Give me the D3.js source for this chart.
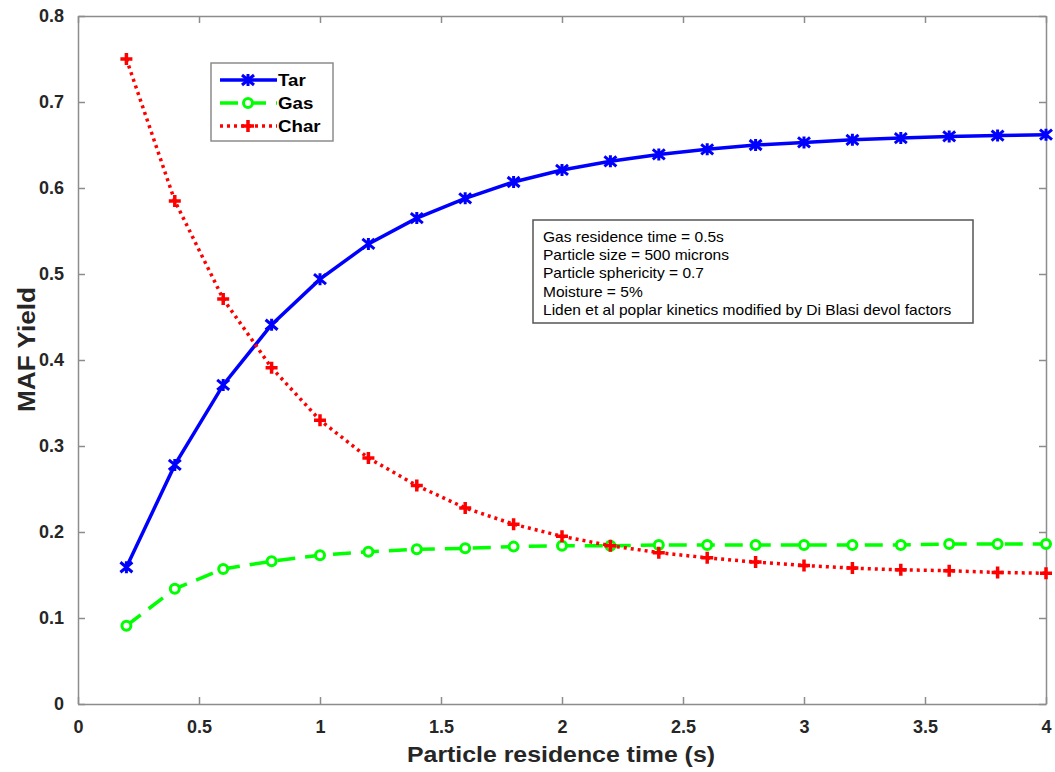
<!DOCTYPE html>
<html>
<head>
<meta charset="utf-8">
<script src="https://cdn.jsdelivr.net/npm/d3@7"></script>
<style>
  body { margin: 0; background: #fff; }
  svg { font-family: "Liberation Sans", Arial, sans-serif; }
  .tick text { font-weight: bold; font-size: 18px; fill: #262626; }
</style>
</head>
<body>
<svg id="chart" width="1055" height="772"></svg>
<script>
// residence time (s)
var times = [0.2, 0.4, 0.6, 0.8, 1.0, 1.2, 1.4, 1.6, 1.8, 2.0,
             2.2, 2.4, 2.6, 2.8, 3.0, 3.2, 3.4, 3.6, 3.8, 4.0];
var tarYield = [0.159, 0.278, 0.371, 0.441, 0.494, 0.535, 0.565, 0.588, 0.607, 0.621,
                0.631, 0.639, 0.645, 0.650, 0.653, 0.656, 0.658, 0.660, 0.661, 0.662];
var gasYield = [0.091, 0.134, 0.157, 0.166, 0.173, 0.177, 0.180, 0.181, 0.183, 0.184,
                0.184, 0.185, 0.185, 0.185, 0.185, 0.185, 0.185, 0.186, 0.186, 0.186];
var charYield = [0.750, 0.585, 0.471, 0.391, 0.330, 0.286, 0.254, 0.228, 0.209, 0.195,
                 0.184, 0.176, 0.170, 0.165, 0.161, 0.158, 0.156, 0.155, 0.153, 0.152];
var xTicks = [0, 0.5, 1, 1.5, 2, 2.5, 3, 3.5, 4];
var yTicks = [0, 0.1, 0.2, 0.3, 0.4, 0.5, 0.6, 0.7, 0.8];
var notes = ["Gas residence time = 0.5s",
             "Particle size = 500 microns",
             "Particle sphericity = 0.7",
             "Moisture = 5%",
             "Liden et al poplar kinetics modified by Di Blasi devol factors"];

var margin = {left: 78, right: 9, top: 16, bottom: 68};
var width = 1055, height = 772;
var svg = d3.select("#chart");

var x = d3.scaleLinear().domain([0, 4]).range([margin.left, width - margin.right]);
var y = d3.scaleLinear().domain([0, 0.8]).range([height - margin.bottom, margin.top]);

var axisColor = "#8c8c8c", tickLen = 7;

/* axes (box with inward ticks) */
function styleAxis(g) {
  g.select(".domain").attr("stroke", axisColor).attr("stroke-width", 1.5);
  g.selectAll(".tick line").attr("stroke", axisColor).attr("stroke-width", 1.5);
}

svg.append("g")
  .attr("transform", "translate(0," + y(0) + ")")
  .call(d3.axisBottom(x).tickValues(xTicks).tickSize(-tickLen).tickPadding(16)
        .tickSizeOuter(0).tickFormat(d3.format("")))
  .call(styleAxis);

svg.append("g")
  .attr("transform", "translate(0," + y(0.8) + ")")
  .call(d3.axisTop(x).tickValues(xTicks).tickSize(-tickLen).tickSizeOuter(0).tickFormat(""))
  .call(styleAxis);

svg.append("g")
  .attr("transform", "translate(" + x(0) + ",0)")
  .call(d3.axisLeft(y).tickValues(yTicks).tickSize(-tickLen).tickPadding(14)
        .tickSizeOuter(0).tickFormat(d3.format("")))
  .call(styleAxis);

svg.append("g")
  .attr("transform", "translate(" + x(4) + ",0)")
  .call(d3.axisRight(y).tickValues(yTicks).tickSize(-tickLen).tickSizeOuter(0).tickFormat(""))
  .call(styleAxis);

/* axis labels */
svg.append("text")
  .attr("x", 407).attr("y", 762)
  .attr("textLength", 308).attr("lengthAdjust", "spacingAndGlyphs")
  .style("font-weight", "bold").style("font-size", "22px").style("fill", "#262626")
  .text("Particle residence time (s)");

svg.append("text")
  .attr("transform", "translate(35,412) rotate(-90)")
  .attr("textLength", 125).attr("lengthAdjust", "spacingAndGlyphs")
  .style("font-weight", "bold").style("font-size", "23px").style("fill", "#262626")
  .text("MAF Yield");

/* series */
var series = [
  {name: "Tar",  values: tarYield,  color: "#0000ff", dash: null,    marker: "star"},
  {name: "Gas",  values: gasYield,  color: "#00ff00", dash: "18,10", marker: "circle"},
  {name: "Char", values: charYield, color: "#ff0000", dash: "3,4",   marker: "plus"}
];

var line = d3.line()
  .x(function(d) { return x(d[0]); })
  .y(function(d) { return y(d[1]); });

function drawMarker(g, kind, color) {
  if (kind === "star") {
    g.append("path").attr("d", "M-6,-5L6,5M-6,5L6,-5M0,-6L0,6")
      .attr("stroke", color).attr("stroke-width", 3).attr("fill", "none");
  } else if (kind === "circle") {
    g.append("circle").attr("r", 4.5)
      .attr("stroke", color).attr("stroke-width", 3).attr("fill", "#fff");
  } else {
    g.append("path").attr("d", "M-6,0L6,0M0,-6L0,6")
      .attr("stroke", color).attr("stroke-width", 3.5).attr("fill", "none");
  }
}

series.forEach(function(s) {
  var pts = times.map(function(t, i) { return [t, s.values[i]]; });
  svg.append("path")
    .datum(pts)
    .attr("d", line)
    .attr("fill", "none")
    .attr("stroke", s.color)
    .attr("stroke-width", 3.5)
    .attr("stroke-dasharray", s.dash);
  pts.forEach(function(p) {
    var g = svg.append("g").attr("transform", "translate(" + x(p[0]) + "," + y(p[1]) + ")");
    drawMarker(g, s.marker, s.color);
  });
});

/* legend */
var legend = svg.append("g");
legend.append("rect")
  .attr("x", 211).attr("y", 63).attr("width", 122).attr("height", 78)
  .attr("fill", "#fff").attr("stroke", axisColor).attr("stroke-width", 1.5);

series.forEach(function(s, i) {
  var ly = 80 + i * 23;
  legend.append("line")
    .attr("x1", 220).attr("x2", 277).attr("y1", ly).attr("y2", ly)
    .attr("stroke", s.color).attr("stroke-width", 3.5)
    .attr("stroke-dasharray", s.dash);
  var g = legend.append("g").attr("transform", "translate(248," + ly + ")");
  drawMarker(g, s.marker, s.color);
  legend.append("text")
    .attr("transform", "translate(278," + (ly + 6) + ") scale(1.1,1)")
    .style("font-weight", "bold").style("font-size", "17px").style("fill", "#000")
    .text(s.name);
});

/* annotation box */
var note = svg.append("g");
note.append("rect")
  .attr("x", 533).attr("y", 220).attr("width", 440).attr("height", 103)
  .attr("fill", "#fff").attr("stroke", "#555").attr("stroke-width", 1.5);
notes.forEach(function(t, i) {
  note.append("text")
    .attr("transform", "translate(543," + (242 + i * 18.2) + ") scale(1.11,1)")
    .style("font-size", "14px").style("fill", "#000")
    .text(t);
});
</script>
</body>
</html>
